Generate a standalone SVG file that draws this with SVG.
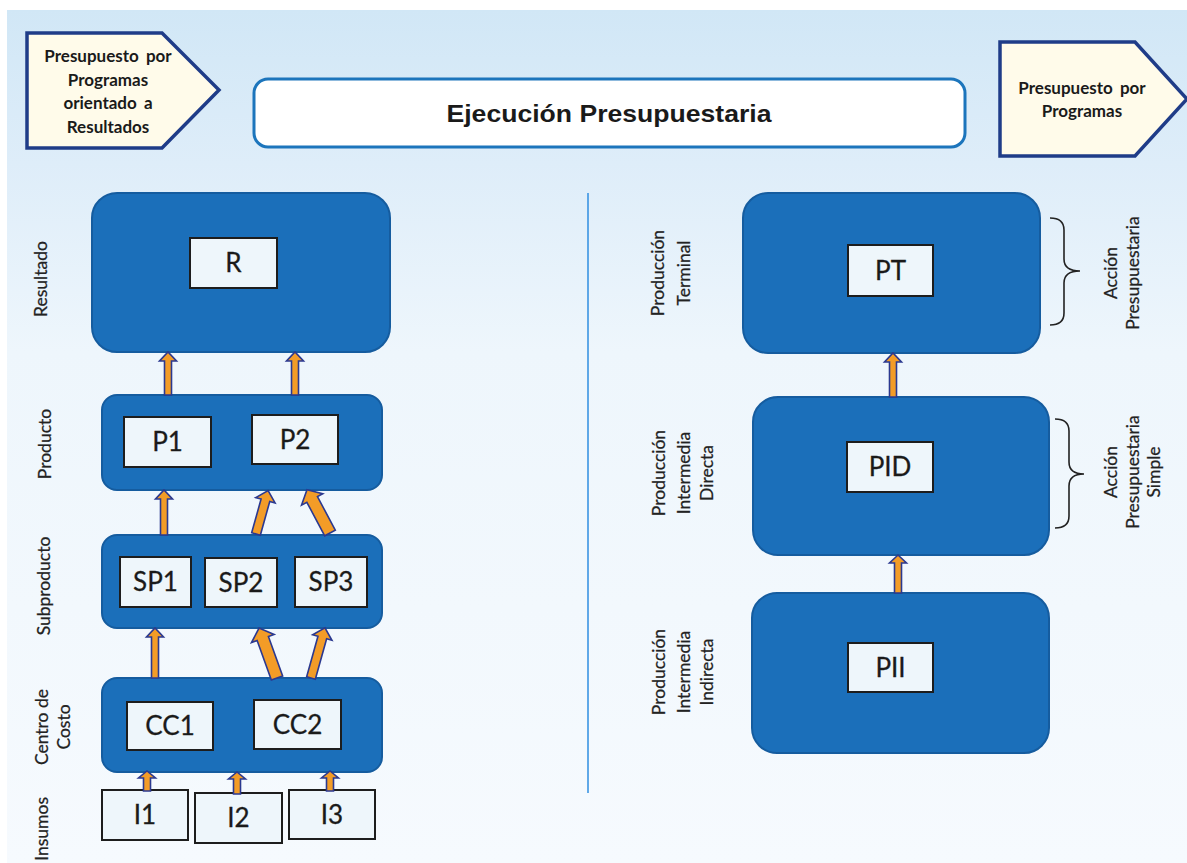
<svg xmlns="http://www.w3.org/2000/svg" width="1187" height="863" viewBox="0 0 1187 863">
<defs>
<linearGradient id="bg" x1="0" y1="0" x2="0" y2="1">
<stop offset="0" stop-color="#d1e7f6"/>
<stop offset="0.18" stop-color="#deedf9"/>
<stop offset="0.4" stop-color="#eef6fc"/>
<stop offset="1" stop-color="#f6fafe"/>
</linearGradient>
<style>
.big{fill:#1b6fba;stroke:#155c9f;stroke-width:2}
.inner{fill:#eef6fb;stroke:#1d1d1d;stroke-width:2}
.lbl{font-family:Lato,"Liberation Sans",sans-serif;font-size:26px;fill:#1a1a1a;text-anchor:middle;stroke:#1a1a1a;stroke-width:0.3}
.side{font-family:Lato,"Liberation Sans",sans-serif;font-size:17.5px;fill:#222;text-anchor:middle;stroke:#222;stroke-width:0.25}
.pent{fill:#fffbea;stroke:#1f3c88;stroke-width:3.5;stroke-linejoin:miter}
.ptxt{font-family:Lato,"Liberation Sans",sans-serif;font-weight:bold;font-size:17px;fill:#1a1a1a;text-anchor:middle}
.arr{fill:#f39c27;stroke:#2b3990;stroke-width:1.6;stroke-linejoin:miter}
.brace{fill:none;stroke:#222;stroke-width:1.6}
</style>
</defs>
<rect x="0" y="0" width="1187" height="863" fill="#ffffff"/>
<rect x="7" y="10" width="1180" height="853" fill="url(#bg)"/>

<g id="hdr-left">
<polygon class="pent" points="27,33 162,33 219,90 162,148 27,148"/>
<text class="ptxt" x="108" y="62" word-spacing="3">Presupuesto por</text>
<text class="ptxt" x="108" y="86">Programas</text>
<text class="ptxt" x="108" y="109" word-spacing="3">orientado a</text>
<text class="ptxt" x="108" y="133">Resultados</text>
</g>
<g id="title">
<rect x="254" y="79" width="711" height="68" rx="14" fill="#ffffff" stroke="#1c75bc" stroke-width="3"/>
<text x="609" y="122" font-family="'Liberation Sans',Arial,sans-serif" font-weight="bold" font-size="24" fill="#1a1a1a" text-anchor="middle" textLength="325" lengthAdjust="spacingAndGlyphs">Ejecución Presupuestaria</text>
</g>
<g id="hdr-right">
<polygon class="pent" points="1000,42 1135,42 1187,99 1135,156 1000,156"/>
<text class="ptxt" x="1082" y="94" word-spacing="3">Presupuesto por</text>
<text class="ptxt" x="1082" y="117">Programas</text>
</g>

<g id="divider">
<line x1="588" y1="193" x2="588" y2="793" stroke="#2f8ee0" stroke-width="1.5"/>
</g>

<g id="side-labels">
<text class="side" transform="translate(47,279) rotate(-90)">Resultado</text>
<text class="side" transform="translate(51,444) rotate(-90)">Producto</text>
<text class="side" transform="translate(50,586) rotate(-90)">Subproducto</text>
<text class="side" transform="translate(48,727) rotate(-90)">Centro de</text>
<text class="side" transform="translate(70,727) rotate(-90)">Costo</text>
<text class="side" style="text-anchor:end" transform="translate(48,797) rotate(-90)">Insumos</text>
<text class="side" transform="translate(664,273) rotate(-90)">Producción</text>
<text class="side" transform="translate(690,273) rotate(-90)">Terminal</text>
<text class="side" transform="translate(665,473) rotate(-90)">Producción</text>
<text class="side" transform="translate(690,473) rotate(-90)">Intermedia</text>
<text class="side" transform="translate(713,473) rotate(-90)">Directa</text>
<text class="side" transform="translate(665,672) rotate(-90)">Producción</text>
<text class="side" transform="translate(690,672) rotate(-90)">Intermedia</text>
<text class="side" transform="translate(713,672) rotate(-90)">Indirecta</text>
<text class="side" transform="translate(1117,273) rotate(-90)">Acción</text>
<text class="side" transform="translate(1139,273) rotate(-90)">Presupuestaria</text>
<text class="side" transform="translate(1117,472) rotate(-90)">Acción</text>
<text class="side" transform="translate(1139,472) rotate(-90)">Presupuestaria</text>
<text class="side" transform="translate(1160,472) rotate(-90)">Simple</text>
</g>

<g id="resultado">
<rect class="big" x="92" y="193" width="298" height="159" rx="25"/>
<rect class="inner" x="190" y="238" width="87" height="50"/>
<text class="lbl" x="233.5" y="272">R</text>
</g>
<g id="producto">
<rect class="big" x="102" y="395" width="280" height="95" rx="15"/>
<rect class="inner" x="124" y="417" width="87" height="50"/>
<text class="lbl" x="167.5" y="451">P1</text>
<rect class="inner" x="252" y="415" width="86" height="49"/>
<text class="lbl" x="295" y="448.5">P2</text>
</g>
<g id="subproducto">
<rect class="big" x="102" y="535" width="280" height="93" rx="15"/>
<rect class="inner" x="120" y="557" width="71" height="50"/>
<text class="lbl" x="155.5" y="591">SP1</text>
<rect class="inner" x="205" y="558" width="72" height="49"/>
<text class="lbl" x="241" y="591.5">SP2</text>
<rect class="inner" x="295" y="557" width="72" height="50"/>
<text class="lbl" x="331" y="591">SP3</text>
</g>
<g id="centro-costo">
<rect class="big" x="102" y="678" width="280" height="94" rx="15"/>
<rect class="inner" x="127" y="702" width="86" height="48"/>
<text class="lbl" x="170" y="735">CC1</text>
<rect class="inner" x="254" y="700" width="87" height="49"/>
<text class="lbl" x="297.5" y="733.5">CC2</text>
</g>
<g id="insumos">
<rect class="inner" x="102" y="790" width="86" height="50"/>
<text class="lbl" x="145" y="824">I1</text>
<rect class="inner" x="195" y="793" width="87" height="50"/>
<text class="lbl" x="238.5" y="827">I2</text>
<rect class="inner" x="289" y="790" width="86" height="49"/>
<text class="lbl" x="332" y="823.5">I3</text>
</g>

<g id="pt">
<rect class="big" x="743" y="193" width="297" height="160" rx="25"/>
<rect class="inner" x="848" y="245" width="85" height="51"/>
<text class="lbl" x="890.5" y="279.5">PT</text>
</g>
<g id="pid">
<rect class="big" x="753" y="397" width="296" height="158" rx="25"/>
<rect class="inner" x="847" y="442" width="86" height="50"/>
<text class="lbl" x="890" y="476">PID</text>
</g>
<g id="pii">
<rect class="big" x="752" y="593" width="297" height="160" rx="25"/>
<rect class="inner" x="848" y="643" width="85" height="49"/>
<text class="lbl" x="890.5" y="676.5">PII</text>
</g>

<g id="braces">
<path class="brace" d="M1050,218 Q1064,218 1064,230 V259 Q1064,271 1080,271 Q1064,271 1064,283 V313 Q1064,325 1050,325"/>
<path class="brace" d="M1055,419 Q1069,419 1069,431 V462 Q1069,474 1084,474 Q1069,474 1069,486 V516 Q1069,528 1055,528"/>
</g>

<g id="connectors">
<path class="arr" transform="translate(168,395)" d="M-3.5,0 V-34 H-8.5 L0,-43 L8.5,-34 H3.5 V0 Z"/>
<path class="arr" transform="translate(295,395)" d="M-3.5,0 V-34 H-8.5 L0,-43 L8.5,-34 H3.5 V0 Z"/>
<path class="arr" transform="translate(164,535)" d="M-3.5,0 V-36 H-8.5 L0,-45 L8.5,-36 H3.5 V0 Z"/>
<path class="arr" transform="translate(256,534) rotate(15.6)" d="M-4.5,0 V-35 H-10 L0,-45 L10,-35 H4.5 V0 Z"/>
<path class="arr" transform="translate(330,533) rotate(-28)" d="M-6,0 V-38 H-12 L0,-49 L12,-38 H6 V0 Z"/>
<path class="arr" transform="translate(155,678)" d="M-3.5,0 V-41 H-8.5 L0,-50 L8.5,-41 H3.5 V0 Z"/>
<path class="arr" transform="translate(277,678) rotate(-19.8)" d="M-6,0 V-42 H-12 L0,-53 L12,-42 H6 V0 Z"/>
<path class="arr" transform="translate(311,678) rotate(15.6)" d="M-4.5,0 V-42 H-10 L0,-52 L10,-42 H4.5 V0 Z"/>
<path class="arr" transform="translate(147,791)" d="M-3.5,0 V-13 H-8.5 L0,-20 L8.5,-13 H3.5 V0 Z"/>
<path class="arr" transform="translate(237,794)" d="M-3.5,0 V-15 H-8.5 L0,-22 L8.5,-15 H3.5 V0 Z"/>
<path class="arr" transform="translate(330,791)" d="M-3.5,0 V-13 H-8.5 L0,-20 L8.5,-13 H3.5 V0 Z"/>
<path class="arr" transform="translate(893,397)" d="M-3.5,0 V-35 H-8.5 L0,-44 L8.5,-35 H3.5 V0 Z"/>
<path class="arr" transform="translate(898,593)" d="M-3.5,0 V-30 H-8.5 L0,-38 L8.5,-30 H3.5 V0 Z"/>
</g>
</svg>
